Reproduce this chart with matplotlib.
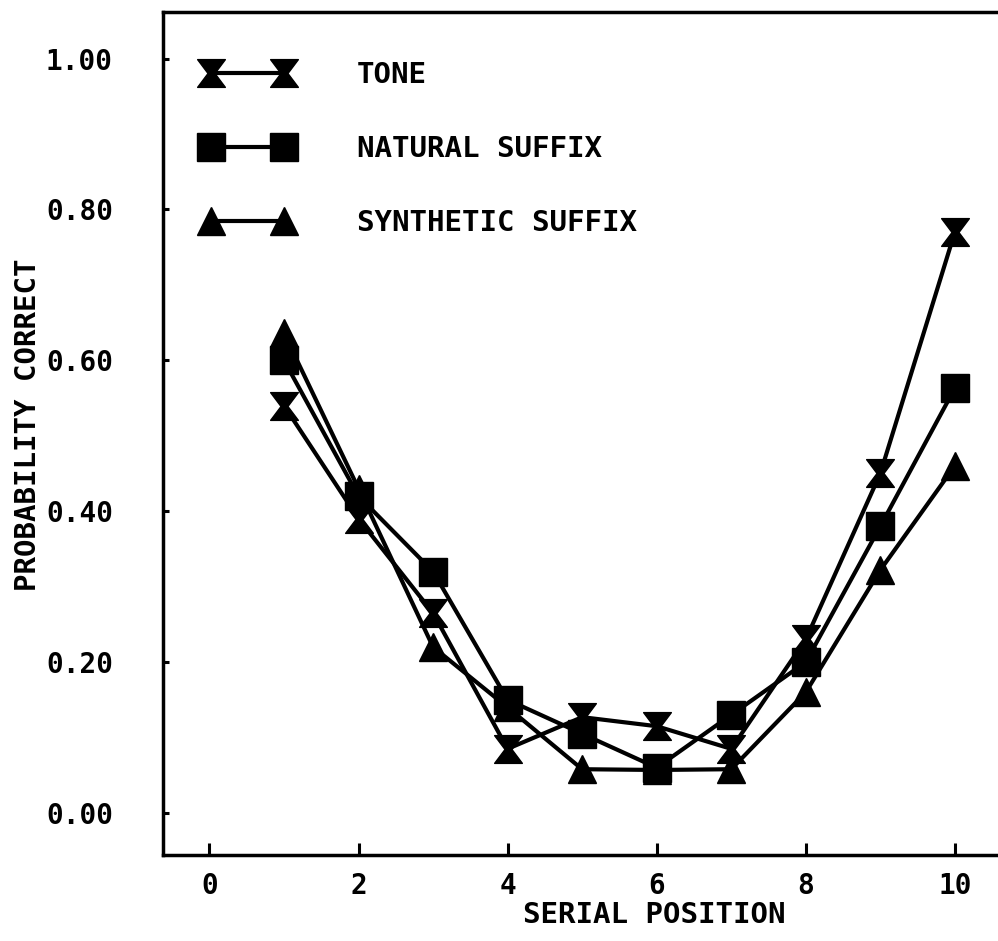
import numpy as np
import matplotlib
matplotlib.use("Agg")
import matplotlib.pyplot as plt
from matplotlib.path import Path

# serial position data
positions = [1, 2, 3, 4, 5, 6, 7, 8, 9, 10]
tone = [0.54, 0.39, 0.265, 0.085, 0.127, 0.115, 0.085, 0.23, 0.45, 0.77]
natural_suffix = [0.60, 0.42, 0.32, 0.15, 0.105, 0.06, 0.13, 0.20, 0.38, 0.563]
synthetic_suffix = [0.636, 0.43, 0.22, 0.14, 0.058, 0.057, 0.058, 0.16, 0.322, 0.46]

series_labels = ["TONE", "NATURAL SUFFIX", "SYNTHETIC SUFFIX"]
xticks = [0, 2, 4, 6, 8, 10]
yticks = [0.0, 0.2, 0.4, 0.6, 0.8, 1.0]

FONT = "DejaVu Sans Mono"
plt.rcParams['font.family'] = FONT
plt.rcParams['font.weight'] = 'bold'

# hourglass marker (two triangles tip to tip)
hourglass = Path([(-1, 1), (1, 1), (0.25, 0), (1, -1), (-1, -1), (-0.25, 0), (-1, 1)],
                 [Path.MOVETO, Path.LINETO, Path.LINETO, Path.LINETO,
                  Path.LINETO, Path.LINETO, Path.CLOSEPOLY])

fig = plt.figure(figsize=(9.98, 9.41), dpi=100)
ax = fig.add_axes([0.1633, 0.0914, 0.835, 0.8958])

style = dict(color="black", lw=3, ms=20, mew=1)
ax.plot(positions, tone, marker=hourglass, label=series_labels[0], **style)
ax.plot(positions, natural_suffix, marker="s", label=series_labels[1], **style)
ax.plot(positions, synthetic_suffix, marker="^", label=series_labels[2], **style)

ax.set_xlim(-0.623, 10.556)
ax.set_ylim(-0.0557, 1.0616)
ax.set_xticks(xticks)
ax.set_yticks(yticks)
ax.set_yticklabels(["%.2f" % v for v in yticks])

ax.tick_params(axis="x", direction="in", length=9, width=2.2, labelsize=20, pad=12)
ax.tick_params(axis="y", direction="in", length=4, width=2.2, labelsize=20, pad=36)

for side in ["left", "bottom", "top"]:
    ax.spines[side].set_linewidth(2.5)
ax.spines["right"].set_visible(False)

ax.set_xlabel("SERIAL POSITION", fontsize=21, fontweight="bold")
ax.xaxis.set_label_coords(0.59, -0.055)
ax.set_ylabel("PROBABILITY CORRECT", fontsize=21, fontweight="bold")
ax.yaxis.set_label_coords(-0.145, 0.51)

ax.legend(loc="upper left", bbox_to_anchor=(0.0156, 0.9727), numpoints=2,
          frameon=False, fontsize=21, handlelength=3.1, handletextpad=2.2,
          labelspacing=1.57, borderaxespad=0.6, borderpad=0.3)

fig.savefig("out.png", dpi=100)
